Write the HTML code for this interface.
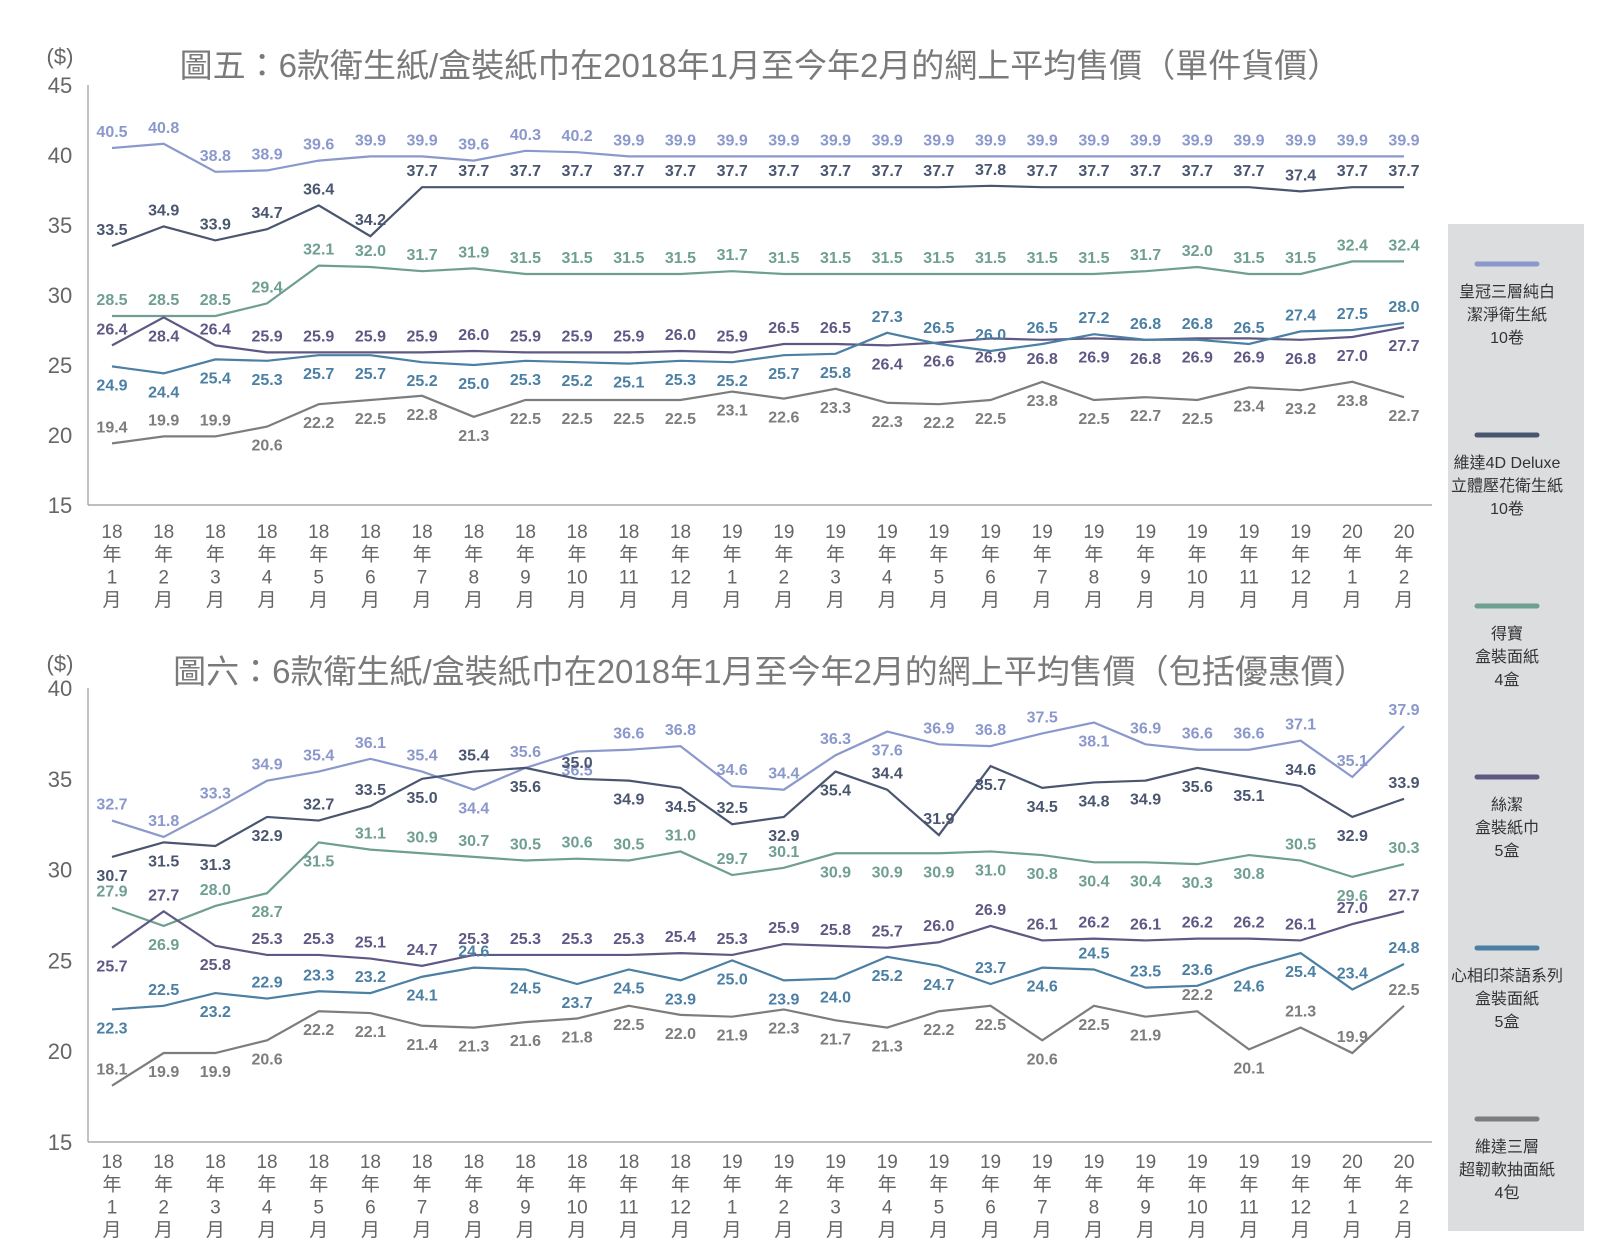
<!DOCTYPE html>
<html><head><meta charset="utf-8">
<style>
body{margin:0;background:#fff;}
svg{display:block;font-family:"Liberation Sans","Noto Sans CJK TC",sans-serif;}
.tk{font-size:22px;fill:#666;}
.xl{font-size:19px;fill:#666;}
.lb{font-size:16px;font-weight:bold;}
.tt{font-size:33px;fill:#7a7a7a;}
.lg{font-size:16px;fill:#333;}
</style></head>
<body>
<svg id="c" width="1610" height="1244">
<rect x="1448" y="224" width="136" height="1007" fill="#dcdddf"/>
<text x="60" y="64" class="tk" text-anchor="middle">($)</text>
<text x="760" y="77" class="tt" text-anchor="middle">圖五：6款衛生紙/盒裝紙巾在2018年1月至今年2月的網上平均售價（單件貨價）</text>
<text x="60" y="671" class="tk" text-anchor="middle">($)</text>
<text x="770" y="683" class="tt" text-anchor="middle">圖六：6款衛生紙/盒裝紙巾在2018年1月至今年2月的網上平均售價（包括優惠價）</text>
</svg>
<script>
const months=["18年1月","18年2月","18年3月","18年4月","18年5月","18年6月","18年7月","18年8月","18年9月","18年10月","18年11月","18年12月","19年1月","19年2月","19年3月","19年4月","19年5月","19年6月","19年7月","19年8月","19年9月","19年10月","19年11月","19年12月","20年1月","20年2月"];
const seriesNames=["皇冠三層純白\n潔淨衛生紙\n10卷","維達4D Deluxe\n立體壓花衛生紙\n10卷","得寶\n盒裝面紙\n4盒","絲潔\n盒裝紙巾\n5盒","心相印茶語系列\n盒裝面紙\n5盒","維達三層\n超韌軟抽面紙\n4包"];
const colors=["#8b98cc","#4a5670","#6f9e92","#5f5884","#4b7fa3","#7d7d7d"];
const yTicks5=[15,20,25,30,35,40,45];
const yTicks6=[15,20,25,30,35,40];
// Chart 5 values
const c5s1=[40.5,40.8,38.8,38.9,39.6,39.9,39.9,39.6,40.3,40.2,39.9,39.9,39.9,39.9,39.9,39.9,39.9,39.9,39.9,39.9,39.9,39.9,39.9,39.9,39.9,39.9];
const c5s2=[33.5,34.9,33.9,34.7,36.4,34.2,37.7,37.7,37.7,37.7,37.7,37.7,37.7,37.7,37.7,37.7,37.7,37.8,37.7,37.7,37.7,37.7,37.7,37.4,37.7,37.7];
const c5s3=[28.5,28.5,28.5,29.4,32.1,32.0,31.7,31.9,31.5,31.5,31.5,31.5,31.7,31.5,31.5,31.5,31.5,31.5,31.5,31.5,31.7,32.0,31.5,31.5,32.4,32.4];
const c5s4=[26.4,28.4,26.4,25.9,25.9,25.9,25.9,26.0,25.9,25.9,25.9,26.0,25.9,26.5,26.5,26.4,26.6,26.9,26.8,26.9,26.8,26.9,26.9,26.8,27.0,27.7];
const c5s5=[24.9,24.4,25.4,25.3,25.7,25.7,25.2,25.0,25.3,25.2,25.1,25.3,25.2,25.7,25.8,27.3,26.5,26.0,26.5,27.2,26.8,26.8,26.5,27.4,27.5,28.0];
const c5s6=[19.4,19.9,19.9,20.6,22.2,22.5,22.8,21.3,22.5,22.5,22.5,22.5,23.1,22.6,23.3,22.3,22.2,22.5,23.8,22.5,22.7,22.5,23.4,23.2,23.8,22.7];
// Chart 6 values
const c6s1=[32.7,31.8,33.3,34.9,35.4,36.1,35.4,34.4,35.6,36.5,36.6,36.8,34.6,34.4,36.3,37.6,36.9,36.8,37.5,38.1,36.9,36.6,36.6,37.1,35.1,37.9];
const c6s2=[30.7,31.5,31.3,32.9,32.7,33.5,35.0,35.4,35.6,35.0,34.9,34.5,32.5,32.9,35.4,34.4,31.9,35.7,34.5,34.8,34.9,35.6,35.1,34.6,32.9,33.9];
const c6s3=[27.9,26.9,28.0,28.7,31.5,31.1,30.9,30.7,30.5,30.6,30.5,31.0,29.7,30.1,30.9,30.9,30.9,31.0,30.8,30.4,30.4,30.3,30.8,30.5,29.6,30.3];
const c6s4=[25.7,27.7,25.8,25.3,25.3,25.1,24.7,25.3,25.3,25.3,25.3,25.4,25.3,25.9,25.8,25.7,26.0,26.9,26.1,26.2,26.1,26.2,26.2,26.1,27.0,27.7];
const c6s5=[22.3,22.5,23.2,22.9,23.3,23.2,24.1,24.6,24.5,23.7,24.5,23.9,25.0,23.9,24.0,25.2,24.7,23.7,24.6,24.5,23.5,23.6,24.6,25.4,23.4,24.8];
const c6s6=[18.1,19.9,19.9,20.6,22.2,22.1,21.4,21.3,21.6,21.8,22.5,22.0,21.9,22.3,21.7,21.3,22.2,22.5,20.6,22.5,21.9,22.2,20.1,21.3,19.9,22.5];
// label side: a=above, b=below
const c5pos=["a".repeat(26),"a".repeat(26),"a".repeat(26),"aba"+"a".repeat(12)+"b".repeat(11),"b".repeat(15)+"a".repeat(11),"aaa"+"b".repeat(23)];
const c6pos=["aaaaaaababaaaaaaaaaaaaaaaa".slice(0,15)+"baaabaaaaaa","bbbbaabababbabbaabbbbbbabb".slice(0,25)+"a","ababbaaaaaaaaabbbbbbbbbaba","bab"+"a".repeat(23),"babaaababbbbbbbbbabaaabbaa","a"+"b".repeat(20)+"abaaa"];

const NS="http://www.w3.org/2000/svg";
const svg=document.getElementById('c');
function mk(tag,attrs,parent){const e=document.createElementNS(NS,tag);for(const k in attrs)e.setAttribute(k,attrs[k]);(parent||svg).appendChild(e);return e;}
const xOf=i=>112+i*(1404-112)/(months.length-1);

function chart(id,yScale,ticks,axisY,xLabY,series,pos){
  const g=mk('g',{});
  
  
  const ax=mk('line',{x1:88,x2:1432,y1:axisY,y2:axisY,stroke:'#999','stroke-width':1.2},g);
  
  
  const ay=mk('line',{x1:88,x2:88,y1:yScale(ticks[ticks.length-1]),y2:axisY,stroke:'#999','stroke-width':1.2},g);
  
  
  ticks.forEach(t=>{
    const tx=mk('text',{x:60,y:yScale(t)+8,'text-anchor':'middle',class:'tk'},g);
    tx.textContent=t;
    
    
  });
  months.forEach((m,i)=>{
    const parts=[m.slice(0,2),'年',m.slice(3,m.length-1),'月'];
    parts.forEach((p,k)=>{
      const tx=mk('text',{x:xOf(i),y:xLabY+k*22.7+7,'text-anchor':'middle',class:'xl'},g);
      tx.textContent=p;
      
      
    });
  });
  series.forEach((vals,s)=>{
    const pl=mk('polyline',{points:vals.map((v,i)=>xOf(i)+','+yScale(v)).join(' '),fill:'none',stroke:colors[s],'stroke-width':2.2},g);
    
    
    vals.forEach((v,i)=>{
      const up=pos[s][i]!=='b';
      const tx=mk('text',{x:xOf(i),y:yScale(v)+(up?-11:24),'text-anchor':'middle',class:'lb',fill:colors[s]},g);
      tx.textContent=v.toFixed(1);
      
      
    });
  });
}
chart('chart5',v=>505-(v-15)*14,yTicks5,505,531,[c5s1,c5s2,c5s3,c5s4,c5s5,c5s6],c5pos);
chart('chart6',v=>688+(40-v)*18.16,yTicks6,1142,1161,[c6s1,c6s2,c6s3,c6s4,c6s5,c6s6],c6pos);

seriesNames.forEach((n,s)=>{
  const y0=264+s*171;
  const ln=mk('line',{x1:1477,x2:1537,y1:y0,y2:y0,stroke:colors[s],'stroke-width':5,'stroke-linecap':'round'});
  
  
  n.split('\n').forEach((t,k)=>{
    const tx=mk('text',{x:1507,y:y0+33+k*23,'text-anchor':'middle',class:'lg'});
    tx.textContent=t;
    
    
  });
});
</script>
</body></html>
